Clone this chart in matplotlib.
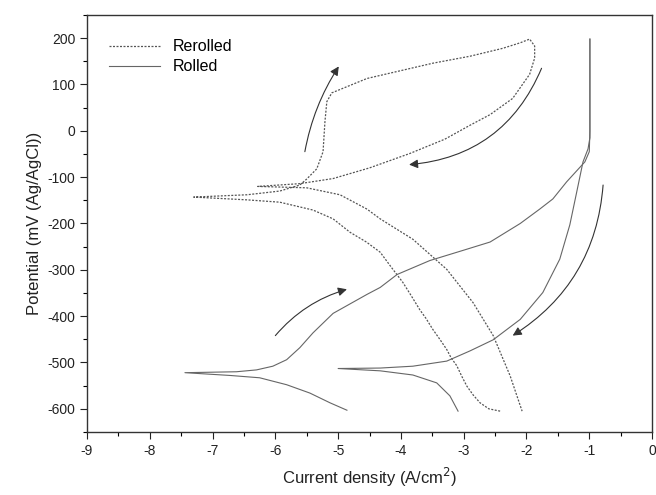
import matplotlib
matplotlib.use("Agg")
import matplotlib.pyplot as plt
from matplotlib.ticker import MultipleLocator

plt.rcParams["font.family"] = ["Liberation Sans", "DejaVu Sans"]
plt.rcParams["axes.unicode_minus"] = False

# Rerolled: forward cathodic -> Ecorr -> anodic -> apex -> reverse -> Ecorr2 -> cathodic
rerolled_x = [-2.42, -2.60, -2.74, -2.85, -2.95, -3.03, -3.11, -3.20, -3.27, -3.38,
              -3.49, -3.60, -3.70, -3.84, -3.97, -4.15, -4.33, -4.55, -4.81, -5.08,
              -5.40, -5.93, -6.45, -7.30,
              -6.45, -5.93, -5.61, -5.50, -5.34, -5.24, -5.21, -5.18, -5.10,
              -4.54, -3.49, -2.90, -2.38, -2.10, -1.95, -1.87, -1.87, -1.95,
              -2.22, -2.58, -2.90, -3.30, -3.86, -4.50, -5.08, -5.61, -6.28,
              -5.50, -4.97, -4.54, -4.33, -3.81, -3.27, -2.85, -2.53, -2.26, -2.07]
rerolled_y = [-605, -600, -587, -570, -551, -530, -507, -490, -472, -450,
              -429, -405, -386, -355, -327, -295, -262, -240, -219, -190,
              -171, -154, -149, -143,
              -138, -130, -117, -104, -82, -45, 20, 63, 82,
              113, 146, 161, 178, 190, 198, 183, 157, 122,
              70, 35, 12, -18, -49, -80, -103, -114, -120,
              -123, -138, -169, -190, -234, -299, -371, -442, -529, -605]

# Rolled forward: cathodic -> Ecorr -> anodic -> current limit
rolled_fwd_x = [-4.86, -5.13, -5.45, -5.82, -6.25, -6.72, -7.44,
                -6.62, -6.30, -6.04, -5.82, -5.61, -5.40, -5.08, -4.54, -4.33,
                -4.06, -3.54, -3.01, -2.58, -2.10, -1.79, -1.58, -1.36, -1.07, -1.00,
                -0.99, -0.99]
rolled_fwd_y = [-603, -587, -566, -548, -533, -528, -522,
                -520, -516, -508, -494, -468, -436, -394, -353, -338,
                -310, -280, -258, -240, -200, -169, -147, -110, -67, -45,
                0, 198]

# Rolled reverse: from current limit down to second Ecorr and cathodic branch
rolled_rev_x = [-0.99, -0.99, -1.02, -1.10, -1.20, -1.31, -1.47, -1.74, -2.10, -2.53,
                -2.90, -3.27, -3.81, -4.33, -5.00,
                -4.33, -3.81, -3.43, -3.22, -3.09]
rolled_rev_y = [198, -15, -39, -67, -132, -203, -277, -349, -407, -451,
                -475, -497, -508, -512, -513,
                -518, -527, -544, -572, -605]

# Scan direction arrows: (start, end)
arrow_starts = [(-5.53, -45), (-1.76, 135), (-6.00, -442), (-0.78, -117)]
arrow_ends = [(-4.99, 139), (-3.87, -73), (-4.86, -342), (-2.22, -442)]
arrow_rads = [-0.1, -0.3, -0.15, -0.25]

fig = plt.figure(figsize=(6.56, 4.95), dpi=100)
ax = fig.add_axes([0.1326, 0.1273, 0.8614, 0.8424])

ax.plot(rerolled_x, rerolled_y, color="#555555", lw=0.9,
        linestyle=(0, (1.6, 1.2)), label="Rerolled")
ax.plot(rolled_fwd_x, rolled_fwd_y, color="#666666", lw=0.8, label="Rolled")
ax.plot(rolled_rev_x, rolled_rev_y, color="#666666", lw=0.8)

for s, e, r in zip(arrow_starts, arrow_ends, arrow_rads):
    ax.annotate("", xy=e, xytext=s,
                arrowprops=dict(arrowstyle="-|>", color="#333333", lw=0.8,
                                mutation_scale=13,
                                connectionstyle=f"arc3,rad={r}",
                                shrinkA=0, shrinkB=0))

ax.set_xlim(-9, 0)
ax.set_ylim(-650, 250)
ax.xaxis.set_major_locator(MultipleLocator(1))
ax.xaxis.set_minor_locator(MultipleLocator(0.5))
ax.yaxis.set_major_locator(MultipleLocator(100))
ax.yaxis.set_minor_locator(MultipleLocator(50))
ax.set_yticks(range(-600, 201, 100))
ax.tick_params(which="major", direction="out", length=5, width=0.8,
               labelsize=10, colors="#222222")
ax.tick_params(which="minor", direction="out", length=3, width=0.8)
for sp in ax.spines.values():
    sp.set_color("#333333")
    sp.set_linewidth(1.0)

ax.set_xlabel("Current density (A/cm$^2$)", fontsize=12, color="#222222", labelpad=6)
ax.set_ylabel("Potential (mV (Ag/AgCl))", fontsize=12, color="#222222", labelpad=4)

ax.legend(loc="upper left", frameon=False, fontsize=11.5, handlelength=3.2,
          borderaxespad=0.6, bbox_to_anchor=(0.01, 0.98), labelspacing=0.3)

fig.savefig("out.png", dpi=100)
